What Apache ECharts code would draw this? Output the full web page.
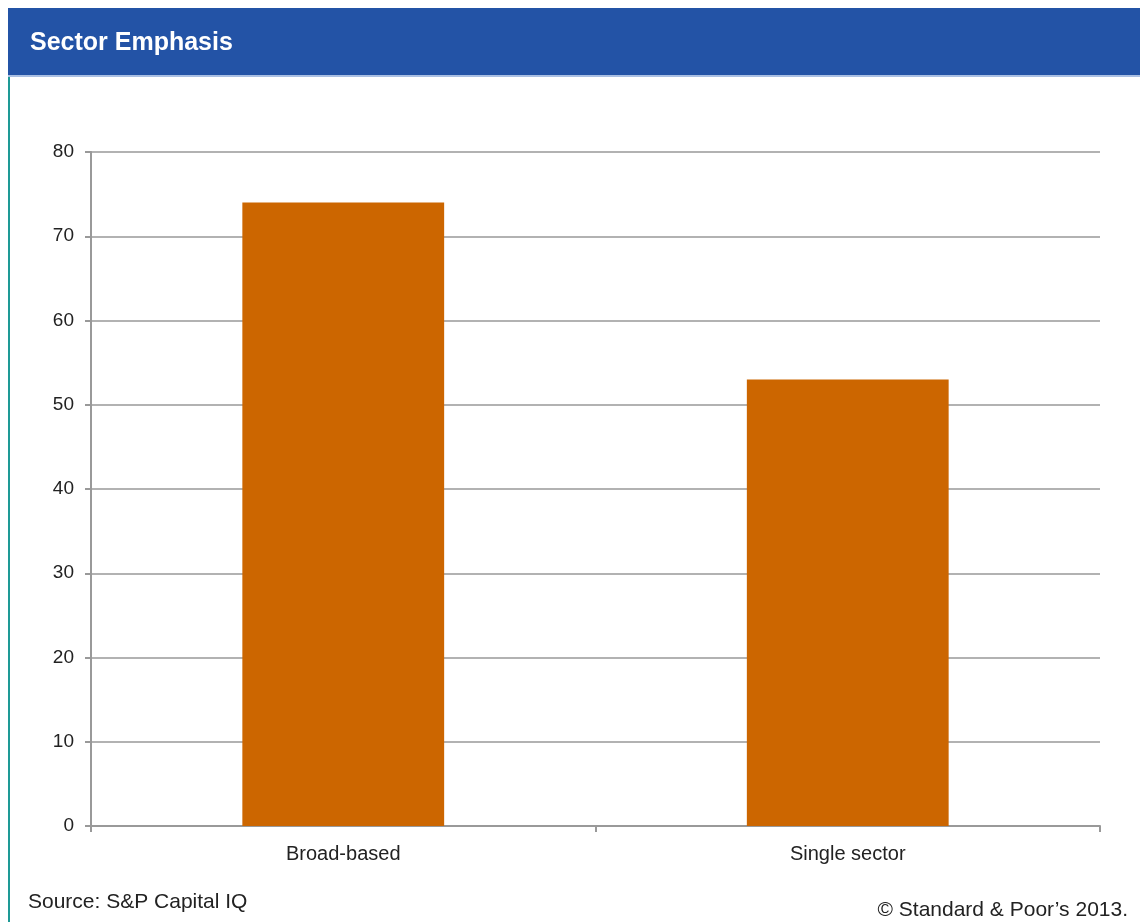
<!DOCTYPE html>
<html>
<head>
<meta charset="utf-8">
<script src="https://cdn.jsdelivr.net/npm/echarts@6/dist/echarts.min.js"></script>
<style>
  html, body { margin: 0; padding: 0; background: #fff; }
  #main { width: 1140px; height: 922px; }
</style>
</head>
<body>
<div id="main"></div>
<script>
var categories = ['Broad-based', 'Single sector'];
var values = [74, 53];
var yTicks = [0, 80, 10];

var chartDom = document.getElementById('main');
var myChart = echarts.init(chartDom);
var option;

var font = 'Arial, "Liberation Sans", sans-serif';

option = {
  backgroundColor: '#fff',
  animation: false,
  grid: {
    left: 91,
    right: 40,
    top: 152,
    bottom: 96
  },
  xAxis: {
    type: 'category',
    data: categories,
    axisLine: { lineStyle: { color: '#999', width: 2 } },
    axisTick: { show: true, length: 6, lineStyle: { color: '#999', width: 2 } },
    axisLabel: { color: '#222', fontSize: 20, fontFamily: font, margin: 18 }
  },
  yAxis: {
    type: 'value',
    min: yTicks[0],
    max: yTicks[1],
    interval: yTicks[2],
    axisLine: { show: true, lineStyle: { color: '#999', width: 2 } },
    axisTick: { show: true, length: 6, lineStyle: { color: '#999', width: 2 } },
    axisLabel: { color: '#222', fontSize: 19, fontFamily: font, margin: 17 },
    splitLine: { lineStyle: { color: '#999', width: 1.5 } }
  },
  series: [
    {
      type: 'bar',
      data: values,
      barWidth: '40%',
      itemStyle: { color: '#CC6600' }
    }
  ],
  graphic: [
    {
      type: 'rect',
      shape: { x: 8, y: 8, width: 1132, height: 67 },
      style: { fill: '#2353A6' }
    },
    {
      type: 'rect',
      shape: { x: 8, y: 75, width: 1132, height: 2 },
      style: { fill: '#A9BFE3' }
    },
    {
      type: 'rect',
      shape: { x: 8, y: 77, width: 2, height: 845 },
      style: { fill: '#1E9A96' }
    },
    {
      type: 'text',
      left: 30,
      top: 31,
      style: {
        text: 'Sector Emphasis',
        fill: '#fff',
        font: 'bold 25px ' + font
      }
    },
    {
      type: 'text',
      left: 28,
      top: 892,
      style: {
        text: 'Source: S&P Capital IQ',
        fill: '#222',
        font: '21px ' + font
      }
    },
    {
      type: 'text',
      right: 12,
      top: 900,
      style: {
        text: '\u00a9 Standard & Poor\u2019s 2013.',
        fill: '#222',
        font: '21px ' + font
      }
    }
  ]
};

option && myChart.setOption(option);
</script>
</body>
</html>
